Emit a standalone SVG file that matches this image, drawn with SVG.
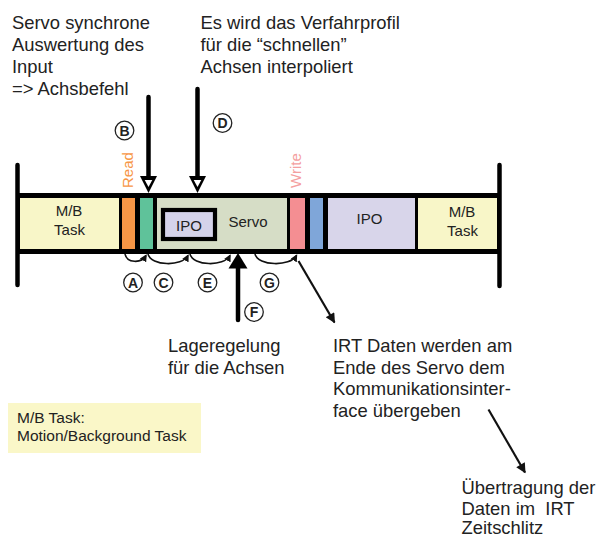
<svg xmlns="http://www.w3.org/2000/svg" width="598" height="538" viewBox="0 0 598 538">
<style>
  text { font-family: "Liberation Sans", Arial, sans-serif; fill: #222; }
  .big { font-size: 18.4px; }
  .seg { font-size: 15px; text-anchor: middle; }
  .lbl { font-size: 14px; font-weight: bold; text-anchor: middle; }
  .circ { fill: #fff; stroke: #222; stroke-width: 1.3; }
  .arc { fill: none; stroke: #111; stroke-width: 1.6; marker-end: url(#sm); }
  .diag { stroke: #111; stroke-width: 2.2; marker-end: url(#big); }
  .shaft { stroke: #000; stroke-width: 4.5; stroke-linecap: round; }
</style>
<defs>
  <marker id="sm" viewBox="0 0 10 10" refX="8" refY="5" markerWidth="4.5" markerHeight="4.5" orient="auto" markerUnits="strokeWidth">
    <path d="M0,0 L10,5 L0,10 Z" fill="#111"/>
  </marker>
  <marker id="big" viewBox="0 0 10 10" refX="9" refY="5" markerWidth="5.5" markerHeight="4.5" orient="auto" markerUnits="strokeWidth">
    <path d="M0,0 L10,5 L0,10 Z" fill="#111"/>
  </marker>
  <g id="openhead">
    <polygon points="-8.5,-17 8.5,-17 0,0" fill="#000"/>
    <polygon points="-3.8,-13 3.8,-13 0,-6" fill="#fff"/>
  </g>
</defs>
<rect width="598" height="538" fill="#fff"/>

<!-- timeline bar -->
<g id="bar">
  <rect x="17" y="193" width="483" height="61" fill="#000"/>
  <line x1="17.5" y1="165" x2="17.5" y2="285" class="shaft" stroke-width="5"/>
  <line x1="499.5" y1="165" x2="499.5" y2="286" class="shaft" stroke-width="5"/>
</g>
<g id="mb-left">
  <rect x="20" y="198" width="99" height="51" fill="#f8f6c8"/>
  <text class="seg" x="69" y="216">M/B</text>
  <text class="seg" x="69.5" y="235">Task</text>
</g>
<g id="read">
  <rect x="122" y="198" width="13" height="51" fill="#f79646"/>
  <text transform="translate(133.3,188) rotate(-90)" font-size="15" style="fill:#f79646">Read</text>
</g>
<g id="input">
  <rect x="140" y="198" width="13" height="51" fill="#5fc29a"/>
</g>
<g id="servo">
  <rect x="157" y="198" width="130" height="51" fill="#d6ddc6"/>
  <rect x="163" y="210" width="52" height="29" fill="#d5d3ea" stroke="#000" stroke-width="4.2"/>
  <text class="seg" x="189" y="231">IPO</text>
  <text class="seg" x="248" y="227">Servo</text>
</g>
<g id="write">
  <rect x="290" y="198" width="15" height="51" fill="#f48e92"/>
  <text transform="translate(300.5,188) rotate(-90)" font-size="15" style="fill:#f4a0a0">Write</text>
</g>
<g id="comm">
  <rect x="310" y="198" width="13" height="51" fill="#7fa6d9"/>
</g>
<g id="ipo-right">
  <rect x="328" y="198" width="87" height="51" fill="#d8d5ea"/>
  <text class="seg" x="369.5" y="224">IPO</text>
</g>
<g id="mb-right">
  <rect x="418" y="198" width="79" height="51" fill="#f8f6c8"/>
  <text class="seg" x="462" y="216.5">M/B</text>
  <text class="seg" x="462.5" y="236">Task</text>
</g>

<!-- connectors -->
<g id="connectors">
  <line x1="148.5" y1="97" x2="148.5" y2="178" class="shaft"/>
  <use href="#openhead" transform="translate(148.5,193)"/>
  <line x1="197.5" y1="89" x2="197.5" y2="178" class="shaft"/>
  <use href="#openhead" transform="translate(197.5,193)"/>
  <line x1="238" y1="320" x2="238" y2="266" class="shaft" stroke-width="5"/>
  <polygon points="228.5,268.5 247.5,268.5 238,253" fill="#000"/>
  <path class="arc" d="M125,254 C127,263 141,264 146,255.5"/>
  <path class="arc" d="M148,254 C151,266 182,267 188,255.5"/>
  <path class="arc" d="M190,254 C193,266 224,267 230,255.5"/>
  <path class="arc" d="M255,254 C258,266 290,267 296.5,255.5"/>
  <line class="diag" x1="298.5" y1="261" x2="334.5" y2="322.5"/>
  <line class="diag" x1="488.5" y1="409.5" x2="525" y2="472.5"/>
</g>

<!-- circled labels -->
<g id="label-A"><circle class="circ" cx="133" cy="282.5" r="9.3"/><text class="lbl" x="133" y="287.5">A</text></g>
<g id="label-B"><circle class="circ" cx="124.5" cy="130.5" r="9.3"/><text class="lbl" x="124.5" y="135.5">B</text></g>
<g id="label-C"><circle class="circ" cx="163.5" cy="282.5" r="9.3"/><text class="lbl" x="163.5" y="287.5">C</text></g>
<g id="label-D"><circle class="circ" cx="222.5" cy="123" r="9.3"/><text class="lbl" x="222.5" y="128">D</text></g>
<g id="label-E"><circle class="circ" cx="207.5" cy="282.5" r="9.3"/><text class="lbl" x="207.5" y="287.5">E</text></g>
<g id="label-F"><circle class="circ" cx="254" cy="312" r="9.3"/><text class="lbl" x="254" y="317">F</text></g>
<g id="label-G"><circle class="circ" cx="269.5" cy="282.5" r="9.3"/><text class="lbl" x="269.5" y="287.5">G</text></g>

<!-- annotations -->
<g id="note-input">
  <text class="big" x="12" y="29">Servo synchrone</text>
  <text class="big" x="12" y="51">Auswertung des</text>
  <text class="big" x="12" y="73">Input</text>
  <text class="big" x="12" y="95">=&gt; Achsbefehl</text>
</g>
<g id="note-ipo">
  <text class="big" x="200.5" y="29">Es wird das Verfahrprofil</text>
  <text class="big" x="200.5" y="51">für die “schnellen”</text>
  <text class="big" x="200.5" y="73">Achsen interpoliert</text>
</g>
<g id="note-lage">
  <text class="big" x="168" y="352">Lageregelung</text>
  <text class="big" x="168" y="373.5">für die Achsen</text>
</g>
<g id="note-irt">
  <text class="big" x="333" y="352">IRT Daten werden am</text>
  <text class="big" x="333" y="373.5">Ende des Servo dem</text>
  <text class="big" x="333" y="395">Kommunikationsinter-</text>
  <text class="big" x="333" y="416.5">face übergeben</text>
</g>
<g id="note-uebertragung">
  <text class="big" x="461.5" y="494">Übertragung der</text>
  <text class="big" x="461.5" y="515" xml:space="preserve">Daten im  IRT</text>
  <text class="big" x="461.5" y="534">Zeitschlitz</text>
</g>
<g id="legend">
  <rect x="8" y="403" width="193" height="50" fill="#faf7c8"/>
  <text x="17" y="423" font-size="15.5">M/B Task:</text>
  <text x="17" y="441" font-size="15.5">Motion/Background Task</text>
</g>
</svg>
